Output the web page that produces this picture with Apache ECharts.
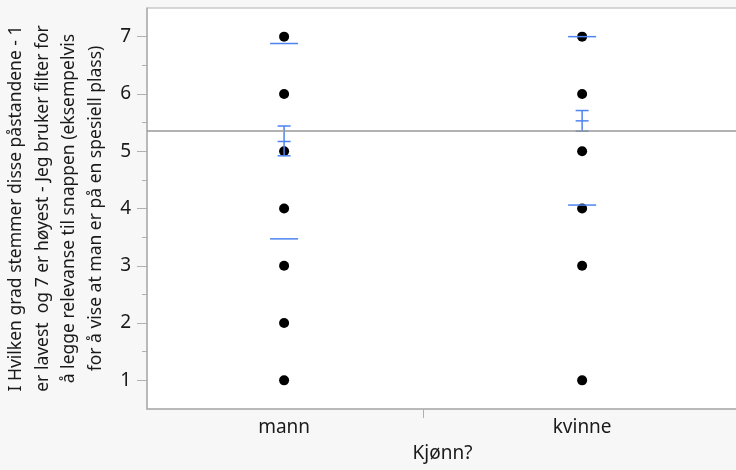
<!DOCTYPE html>
<html>
<head>
<meta charset="utf-8">
<script src="https://cdn.jsdelivr.net/npm/echarts@6/dist/echarts.min.js"></script>
<style>
html,body{margin:0;padding:0;background:#f7f7f7;}
#c{width:736px;height:470px;}
</style>
</head>
<body>
<div id="c"></div>
<script>
// ---- data ----
var categories = ['mann', 'kvinne'];
var categoryPos = [1, 2];
var mannValues = [1, 2, 3, 4, 5, 6, 7];
var kvinneValues = [1, 3, 4, 5, 6, 7];
var groupMeans = [5.17, 5.53];
var sdLower = [3.47, 4.06];
var sdUpper = [6.88, 7.00];
var ciLower = [4.92, 5.35];
var ciUpper = [5.44, 5.71];
var grandMean = 5.36;
var yTickValues = [1, 2, 3, 4, 5, 6, 7];
var yMinorTickValues = [1.5, 2.5, 3.5, 4.5, 5.5, 6.5];
var xBoundaryTick = [1.466];
var yTitle = 'I Hvilken grad stemmer disse påstandene - 1\ner lavest  og 7 er høyest - Jeg bruker filter for\nå legge relevanse til snappen (eksempelvis\nfor å vise at man er på en spesiell plass)';
var xTitle = 'Kjønn?';

// ---- build ----
var points = [];
mannValues.forEach(function (v) { points.push([categoryPos[0], v]); });
kvinneValues.forEach(function (v) { points.push([categoryPos[1], v]); });
var stats = categoryPos.map(function (x, i) {
  return [x, groupMeans[i], sdLower[i], sdUpper[i], ciLower[i], ciUpper[i]];
});
var BLUE = '#4d84f0';
var FONT = 'Noto Sans';
var TXT = '#1a1a1a';

var chart = echarts.init(document.getElementById('c'));
chart.setOption({
  backgroundColor: '#f7f7f7',
  animation: false,
  textStyle: { fontFamily: FONT },
  grid: { left: 147, right: -2, top: 8, bottom: 61, outerBoundsMode: 'none', containLabel: false, show: true, backgroundColor: '#ffffff', borderColor: '#b0b0b0', borderWidth: 1 },
  xAxis: {
    type: 'value', min: 0.54, max: 2.523,
    splitLine: { show: false },
    axisLine: { lineStyle: { color: '#b0b0b0', width: 1.5 } },
    axisTick: { customValues: xBoundaryTick, length: 9, lineStyle: { color: '#b0b0b0' } },
    axisLabel: {
      customValues: categoryPos, margin: 9, fontSize: 19, color: TXT, fontFamily: FONT,
      formatter: function (v) { var i = categoryPos.indexOf(Math.round(v)); return i >= 0 ? categories[i] : ''; }
    },
    name: xTitle, nameLocation: 'middle', nameGap: 35,
    nameTextStyle: { fontSize: 19, color: TXT, fontFamily: FONT }
  },
  yAxis: [{
    type: 'value', min: 0.5, max: 7.5,
    splitLine: { show: false },
    axisLine: { show: true, lineStyle: { color: '#b0b0b0', width: 1.5 } },
    axisTick: { customValues: yTickValues, length: 10, lineStyle: { color: '#b0b0b0' } },
    axisLabel: { customValues: yTickValues, margin: 16, fontSize: 19, color: TXT, fontFamily: FONT },
    name: yTitle, nameLocation: 'middle', nameRotate: 90, nameGap: 37,
    nameTextStyle: { fontSize: 17.5, color: TXT, lineHeight: 26.5, align: 'center', fontFamily: FONT }
  }, {
    type: 'value', min: 0.5, max: 7.5, position: 'left',
    splitLine: { show: false },
    axisLine: { show: false },
    axisTick: { customValues: yMinorTickValues, length: 5, lineStyle: { color: '#b0b0b0' } },
    axisLabel: { show: false }
  }],
  series: [{
    type: 'scatter',
    data: points,
    symbolSize: 10,
    itemStyle: { color: '#000', opacity: 1 },
    z: 3,
    markLine: {
      silent: true, symbol: 'none', label: { show: false },
      lineStyle: { color: '#999', width: 1.5, type: 'solid' },
      data: [{ yAxis: grandMean }]
    }
  }, {
    type: 'custom',
    data: stats,
    z: 4,
    renderItem: function (params, api) {
      var x = api.value(0);
      var m = api.coord([x, api.value(1)]);
      var sl = api.coord([x, api.value(2)]);
      var su = api.coord([x, api.value(3)]);
      var cl = api.coord([x, api.value(4)]);
      var cu = api.coord([x, api.value(5)]);
      var st = { stroke: BLUE, lineWidth: 1.5 };
      var W = 14, w = 6.5;
      function h(p, hw) { return { type: 'line', shape: { x1: p[0] - hw, y1: p[1], x2: p[0] + hw, y2: p[1] }, style: st }; }
      return {
        type: 'group',
        children: [
          h(sl, W), h(su, W),
          h(m, w), h(cl, w), h(cu, w),
          { type: 'line', shape: { x1: m[0], y1: cl[1], x2: m[0], y2: cu[1] }, style: st }
        ]
      };
    }
  }]
});
</script>
</body>
</html>
